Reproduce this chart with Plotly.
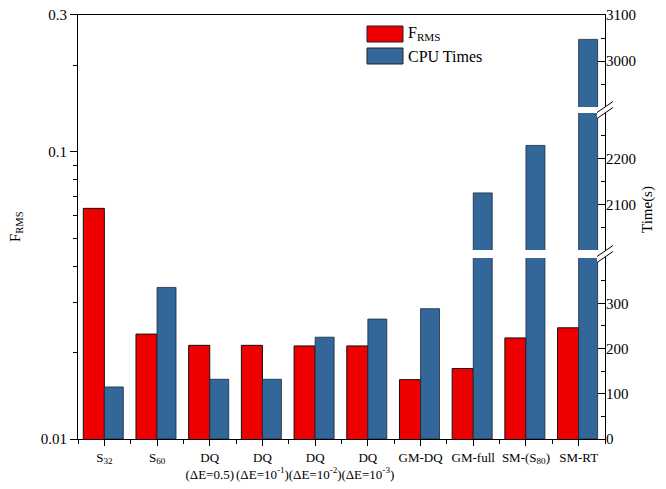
import plotly.graph_objects as go

# ---------------- data ----------------
categories = ["S<sub>32</sub>", "S<sub>60</sub>", "DQ<br>(ΔE=0.5)",
              "DQ<br>(ΔE=10<sup>-1</sup>)", "DQ<br>(ΔE=10<sup>-2</sup>)",
              "DQ<br>(ΔE=10<sup>-3</sup>)", "GM-DQ", "GM-full",
              "SM-(S<sub>80</sub>)", "SM-RT"]
f_rms = [0.0636, 0.0232, 0.0212, 0.0212, 0.0211, 0.0211, 0.0161, 0.0176, 0.0225, 0.0244]
cpu_times = [115, 335, 132, 132, 225, 265, 288, 2125, 2229, 3047]

left_tickvals = [0.01, 0.1, 0.3]
left_ticktext = ["0.01", "0.1", "0.3"]
left_minor = [0.02, 0.03, 0.04, 0.05, 0.06, 0.07, 0.08, 0.09, 0.2]

# broken right axis segments: (range, major ticks, minor ticks)
seg_low = ([0, 400], [0, 100, 200, 300], [50, 150, 250, 350])
seg_mid = ([2000, 2300], [2100, 2200], [2050, 2150, 2250])
seg_up = ([2900, 3100], [3000, 3100], [2950, 3050])

RED = "#EE0000"
BLUE = "#336699"
FONT = "Liberation Serif"

# ---------------- layout geometry (pixels) ----------------
W, H = 666, 489
L, R, T, B = 78, 605, 15, 439


def px(x):
    return (x - L) / (R - L)


def py(y):
    return (B - y) / (B - T)


x = list(range(len(categories)))

fig = go.Figure()
fig.add_trace(go.Bar(x=x, y=f_rms, name="F<sub>RMS</sub>", marker=dict(color=RED, line=dict(color="#111", width=1)),
                     offset=-0.4, width=0.4, yaxis="y", showlegend=False))
for ax in ["y2", "y3", "y4"]:
    fig.add_trace(go.Bar(x=x, y=cpu_times, name="CPU Times",
                         marker=dict(color=BLUE, line=dict(color="#1a2a3a", width=0.8)),
                         offset=0.0, width=0.36, yaxis=ax, showlegend=False))

tickfont = dict(family=FONT, size=15, color="black")


def right_axis(seg, domain):
    rng, major, minor = seg
    return dict(domain=domain, range=rng, anchor="x", side="right", automargin=False,
                tickmode="array", tickvals=major, ticktext=[str(v) for v in major],
                ticks="inside", ticklen=7, tickcolor="black", tickwidth=1,
                minor=dict(tickmode="array", tickvals=minor, ticks="inside", ticklen=4,
                           tickcolor="black", tickwidth=1),
                showgrid=False, zeroline=False, showline=False, tickfont=tickfont)


fig.update_layout(
    width=W, height=H,
    margin=dict(l=L, r=W - R, t=T, b=H - B, pad=0, autoexpand=False),
    plot_bgcolor="rgba(0,0,0,0)", paper_bgcolor="white",
    font=dict(family=FONT, color="black"),
    xaxis=dict(range=[-0.5, len(categories) - 0.5], tickmode="array", tickvals=x, ticktext=categories,
               automargin=False,
               ticks="outside", ticklen=6, tickcolor="black", tickwidth=1,
               minor=dict(tickmode="array", tickvals=[i + 0.5 for i in range(-1, len(categories))],
                          ticks="outside", ticklen=4, tickcolor="black"),
               showline=True, linecolor="black", linewidth=1, mirror=True,
               showgrid=False, zeroline=False, tickfont=dict(family=FONT, size=13, color="black"),
               tickangle=0),
    yaxis=dict(type="log", range=[-2, -0.5229], domain=[0, 1], tickmode="array", automargin=False,
               tickvals=left_tickvals, ticktext=left_ticktext,
               ticks="outside", ticklen=7, tickcolor="black", tickwidth=1,
               minor=dict(tickmode="array", tickvals=left_minor, ticks="outside", ticklen=4,
                          tickcolor="black", tickwidth=1),
               showline=True, linecolor="black", linewidth=1, mirror=True,
               showgrid=False, zeroline=False, tickfont=tickfont),
    yaxis2=right_axis(seg_low, [0, py(258)]),
    yaxis3=right_axis(seg_mid, [py(250), py(113)]),
    yaxis4=right_axis(seg_up, [py(107), 1]),
)

shapes = []
# break marks on the right axis
for yc in (110, 254):
    dx, dy = 8, 5.5
    y1, y2 = yc - 3, yc + 3
    # mask the axis line between the slashes
    path = (f"M {px(R - dx)},{py(y1 + dy)} L {px(R + dx)},{py(y1 - dy)} "
            f"L {px(R + dx)},{py(y2 - dy)} L {px(R - dx)},{py(y2 + dy)} Z")
    shapes.append(dict(type="path", xref="paper", yref="paper", path=path,
                       fillcolor="white", line=dict(width=0), layer="above"))
    for yy in (y1, y2):
        shapes.append(dict(type="line", xref="paper", yref="paper",
                           x0=px(R - dx), y0=py(yy + dy), x1=px(R + dx), y1=py(yy - dy),
                           line=dict(color="black", width=1), layer="above"))

# legend swatches
shapes.append(dict(type="rect", xref="paper", yref="paper", x0=px(367), x1=px(403), y0=py(42), y1=py(26),
                   fillcolor=RED, line=dict(color="#222", width=1)))
shapes.append(dict(type="rect", xref="paper", yref="paper", x0=px(367), x1=px(403), y0=py(64), y1=py(48),
                   fillcolor=BLUE, line=dict(color="#222", width=1)))

annotations = [
    dict(text="F<sub>RMS</sub>", xref="paper", yref="paper", x=px(406), y=py(34), xanchor="left",
         yanchor="middle", showarrow=False, font=dict(family=FONT, size=16, color="black")),
    dict(text="CPU Times", xref="paper", yref="paper", x=px(406), y=py(56), xanchor="left",
         yanchor="middle", showarrow=False, font=dict(family=FONT, size=16, color="black")),
    dict(text="F<sub>RMS</sub>", xref="paper", yref="paper", x=px(16), y=py(227), xanchor="center",
         yanchor="middle", showarrow=False, textangle=-90, font=dict(family=FONT, size=15, color="black")),
    dict(text="Time(s)", xref="paper", yref="paper", x=px(647), y=py(210), xanchor="center",
         yanchor="middle", showarrow=False, textangle=-90, font=dict(family=FONT, size=15, color="black")),
]
fig.update_layout(shapes=shapes, annotations=annotations)

fig.write_html("out.html")
